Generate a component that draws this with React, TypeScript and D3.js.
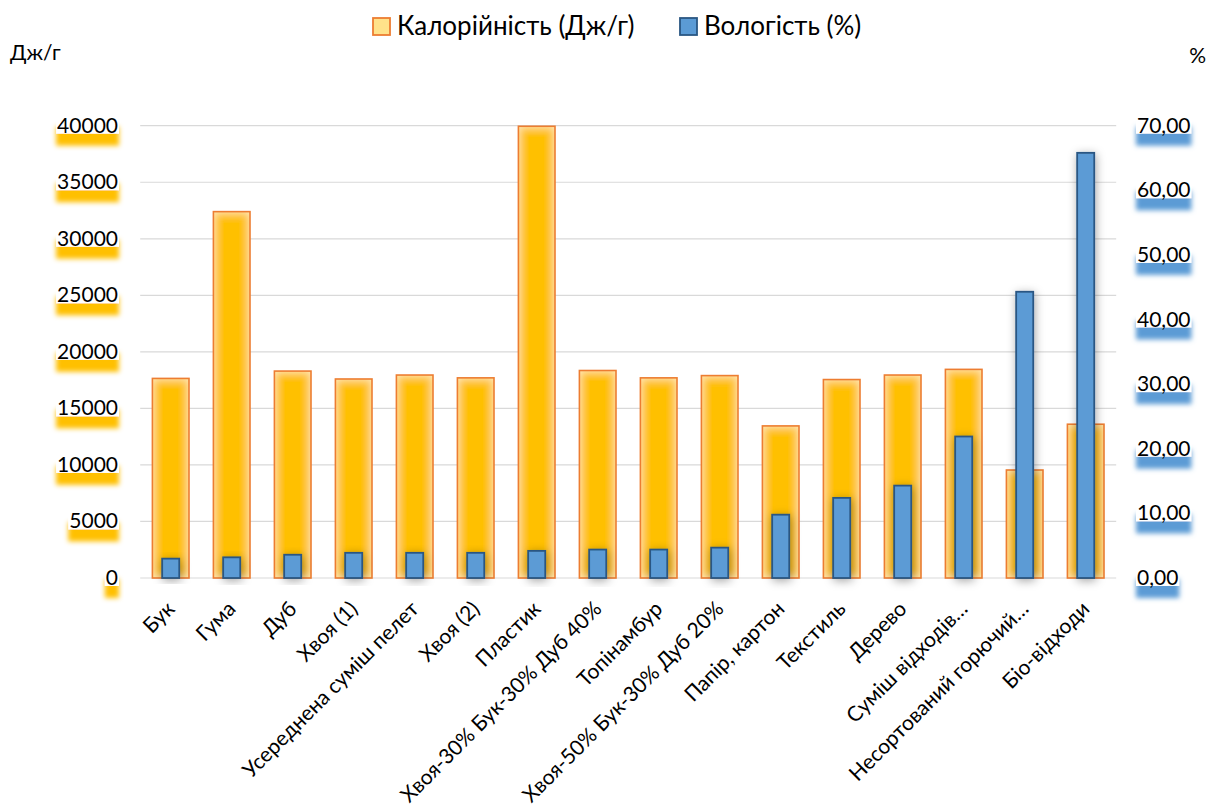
import React, { useEffect, useRef } from "react";
import * as d3 from "d3";

// Sample materials
const categories = [
  "Бук",
  "Гума",
  "Дуб",
  "Хвоя (1)",
  "Усереднена суміш пелет",
  "Хвоя (2)",
  "Пластик",
  "Хвоя-30% Бук-30% Дуб 40%",
  "Топінамбур",
  "Хвоя-50% Бук-30% Дуб 20%",
  "Папір, картон",
  "Текстиль",
  "Дерево",
  "Суміш відходів…",
  "Несортований горючий…",
  "Біо-відходи",
];

// Calorific value, J/g
const calorific = [
  17650, 32400, 18300, 17600, 17950, 17700, 39950, 18350, 17700, 17900, 13450,
  17550, 17950, 18450, 9550, 13600,
];

// Moisture, %
const moisture = [
  3.0, 3.2, 3.6, 3.9, 3.9, 3.9, 4.2, 4.4, 4.4, 4.7, 9.8, 12.4, 14.3, 21.9, 44.3,
  65.8,
];

const leftTicks = [0, 5000, 10000, 15000, 20000, 25000, 30000, 35000, 40000];
const rightTicks = [0, 10, 20, 30, 40, 50, 60, 70];

const seriesNames = ["Калорійність (Дж/г)", "Вологість (%)"];

const W = 1213;
const H = 810;
const FONT = "Lato, 'Noto Sans', sans-serif";

export default function App() {
  const ref = useRef<SVGSVGElement | null>(null);

  useEffect(() => {
    const svg = d3.select(ref.current);
    svg.selectAll("*").remove();

    const plotLeft = 140.2;
    const plotRight = 1116.2;
    const plotTop = 125.7;
    const plotBottom = 578;

    const x = d3
      .scaleBand<string>()
      .domain(categories)
      .range([plotLeft, plotRight])
      .paddingInner(0.4)
      .paddingOuter(0.2);
    const yL = d3.scaleLinear().domain([0, 40000]).range([plotBottom, plotTop]);
    const yR = d3.scaleLinear().domain([0, 70]).range([plotBottom, plotTop]);

    const defs = svg.append("defs");

    // soft inner glow for the calorific bars
    const glow = defs
      .append("filter")
      .attr("id", "innerGlow")
      .attr("x", -1)
      .attr("y", -0.3)
      .attr("width", 3)
      .attr("height", 1.6);
    glow.append("feFlood").attr("flood-color", "#FFF2C4").attr("result", "flood");
    glow
      .append("feComposite")
      .attr("in", "flood")
      .attr("in2", "SourceAlpha")
      .attr("operator", "out")
      .attr("result", "outside");
    glow
      .append("feGaussianBlur")
      .attr("in", "outside")
      .attr("stdDeviation", 5)
      .attr("result", "blur");
    glow
      .append("feComposite")
      .attr("in", "blur")
      .attr("in2", "SourceAlpha")
      .attr("operator", "in")
      .attr("result", "inner");
    const gm = glow.append("feMerge");
    gm.append("feMergeNode").attr("in", "SourceGraphic");
    gm.append("feMergeNode").attr("in", "inner");

    // shadow for moisture bars
    const sh = defs
      .append("filter")
      .attr("id", "barShadow")
      .attr("x", -1.5)
      .attr("y", -0.3)
      .attr("width", 4)
      .attr("height", 1.6);
    sh.append("feDropShadow")
      .attr("dx", 1)
      .attr("dy", 2)
      .attr("stdDeviation", 5)
      .attr("flood-color", "#000")
      .attr("flood-opacity", 0.35);

    const labelShadow = (id: string, color: string) => {
      const f = defs
        .append("filter")
        .attr("id", id)
        .attr("x", -0.3)
        .attr("y", -0.5)
        .attr("width", 1.6)
        .attr("height", 2.6);
      f.append("feDropShadow")
        .attr("dx", 0)
        .attr("dy", 12)
        .attr("stdDeviation", 2.5)
        .attr("flood-color", color)
        .attr("flood-opacity", 1);
    };
    labelShadow("goldShadow", "#FFC000");
    labelShadow("blueShadow", "#5B9BD5");

    // gridlines
    svg
      .append("g")
      .selectAll("line")
      .data(leftTicks)
      .join("line")
      .attr("x1", plotLeft)
      .attr("x2", plotRight)
      .attr("y1", (d) => yL(d))
      .attr("y2", (d) => yL(d))
      .attr("stroke", "#D9D9D9")
      .attr("stroke-width", 1.2);

    // calorific bars
    const bw = x.bandwidth();
    const gCal = svg.append("g");
    gCal
      .selectAll("rect.fill")
      .data(calorific)
      .join("rect")
      .attr("class", "fill")
      .attr("x", (_, i) => x(categories[i])!)
      .attr("y", (d) => yL(d))
      .attr("width", bw)
      .attr("height", (d) => plotBottom - yL(d))
      .attr("fill", "#FFC000")
      .attr("filter", "url(#innerGlow)");
    gCal
      .selectAll("rect.edge")
      .data(calorific)
      .join("rect")
      .attr("class", "edge")
      .attr("x", (_, i) => x(categories[i])!)
      .attr("y", (d) => yL(d))
      .attr("width", bw)
      .attr("height", (d) => plotBottom - yL(d))
      .attr("fill", "none")
      .attr("stroke", "#ED7D31")
      .attr("stroke-width", 1.6);

    // moisture bars
    const mw = x.step() * 0.28;
    svg
      .append("g")
      .selectAll("rect")
      .data(moisture)
      .join("rect")
      .attr("x", (_, i) => x(categories[i])! + bw / 2 - mw / 2)
      .attr("y", (d) => yR(d))
      .attr("width", mw)
      .attr("height", (d) => plotBottom - yR(d))
      .attr("fill", "#5B9BD5")
      .attr("stroke", "#2A5783")
      .attr("stroke-width", 1.8)
      .attr("filter", "url(#barShadow)");

    // axis tick labels with tinted shadows
    const tickLabels = (
      ticks: number[],
      scale: d3.ScaleLinear<number, number>,
      fmt: (v: number) => string,
      xPos: number,
      anchor: "start" | "end",
      shadowId: string
    ) => {
      const g = svg.append("g");
      ticks.forEach((t) => {
        const gy = scale(t);
        const item = g.append("g");
        const rect = item.append("rect");
        const text = item
          .append("text")
          .attr("x", xPos)
          .attr("y", gy + 7)
          .attr("text-anchor", anchor)
          .attr("font-family", FONT)
          .attr("font-size", 21)
          .attr("fill", "#000")
          .text(fmt(t));
        const len = (text.node() as SVGTextElement).getComputedTextLength();
        const x0 = anchor === "end" ? xPos - len - 1 : xPos - 1;
        rect
          .attr("x", x0)
          .attr("y", gy - 11)
          .attr("width", len + 2)
          .attr("height", 19)
          .attr("fill", "#fff")
          .attr("filter", `url(#${shadowId})`);
      });
    };
    tickLabels(leftTicks, yL, (v) => String(v), 118, "end", "goldShadow");
    tickLabels(
      rightTicks,
      yR,
      (v) => d3.format(".2f")(v).replace(".", ","),
      1137,
      "start",
      "blueShadow"
    );

    // category labels
    svg
      .append("g")
      .selectAll("text")
      .data(categories)
      .join("text")
      .attr(
        "transform",
        (d) => `translate(${x(d)! + bw / 2},${plotBottom + 27}) rotate(-45)`
      )
      .attr("text-anchor", "end")
      .attr("dy", "0.35em")
      .attr("font-family", FONT)
      .attr("font-size", 21)
      .attr("fill", "#000")
      .text((d) => d);

    // axis titles
    svg
      .append("text")
      .attr("x", 10)
      .attr("y", 60)
      .attr("font-family", FONT)
      .attr("font-size", 21)
      .text("Дж/г");
    svg
      .append("text")
      .attr("x", 1206)
      .attr("y", 63)
      .attr("text-anchor", "end")
      .attr("font-family", FONT)
      .attr("font-size", 21)
      .text("%");

    // legend
    const lg = svg.append("g");
    const items = [
      { name: seriesNames[0], x: 373, fill: "#FFE28A", stroke: "#ED7D31" },
      { name: seriesNames[1], x: 680, fill: "#5B9BD5", stroke: "#2A5783" },
    ];
    items.forEach((it) => {
      lg.append("rect")
        .attr("x", it.x)
        .attr("y", 18)
        .attr("width", 17)
        .attr("height", 17)
        .attr("fill", it.fill)
        .attr("stroke", it.stroke)
        .attr("stroke-width", 1.8);
      lg.append("text")
        .attr("x", it.x + 24)
        .attr("y", 35)
        .attr("font-family", FONT)
        .attr("font-size", 26)
        .attr("fill", "#000")
        .text(it.name);
    });
  }, []);

  return (
    <svg
      ref={ref}
      width={W}
      height={H}
      style={{ position: "absolute", left: 0, top: 0, background: "#fff" }}
    />
  );
}
